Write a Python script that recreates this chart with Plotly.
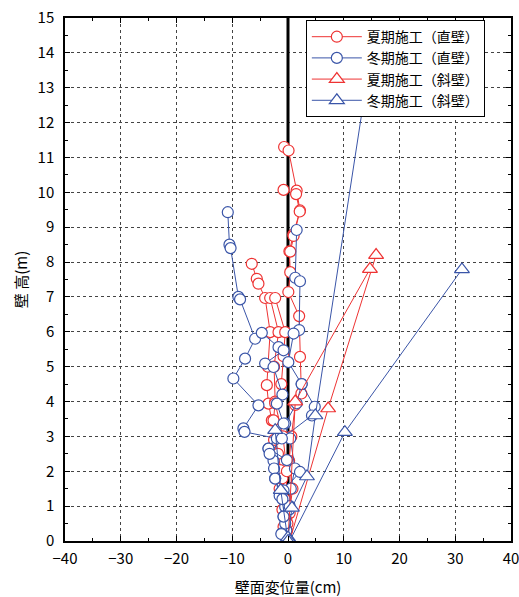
import plotly.graph_objects as go

# ---- data (x: wall displacement cm, y: wall height m); None separates profiles ----
summer_straight_x = [-0.7, 0.1, 1.55, 2.15, 0.95, 0.25, 0.4, 0.06, 2.0, 2.15, 2.4, 1.3, 0.6, 0.2, 0.8, 0.3, -0.2, 0.0, None,
                     -0.8, 1.45, 2.1, 1.0, 0.4, None,
                     -6.5, -5.6, -5.3, -4.1, -3.2, -3.6, -3.8, -3.5, -2.9, -2.5, -1.4, -1.5, -1.0, -0.8, 0.0, None,
                     -3.2, -1.7, -2.5, -2.3, -2.6, -1.8, -1.0, -0.6, -0.3, 0.0, None,
                     -2.3, -0.5, -0.8, -1.2, -2.3, -0.9, -0.2, -0.4, -0.1, 0.0]
summer_straight_y = [11.3, 11.2, 10.05, 9.48, 8.79, 8.31, 7.71, 7.14, 6.45, 5.28, 4.23, 3.9, 3.0, 2.3, 1.5, 0.8, 0.3, 0.0, None,
                     10.07, 9.95, 9.45, 8.75, 8.3, None,
                     7.95, 7.52, 7.38, 6.97, 5.99, 5.0, 4.47, 3.94, 3.46, 2.9, 2.03, 1.5, 0.9, 0.41, 0.0, None,
                     6.97, 5.99, 5.0, 4.0, 3.46, 2.5, 1.8, 1.2, 0.6, 0.0, None,
                     6.97, 5.99, 5.3, 4.5, 3.95, 3.0, 2.0, 1.0, 0.5, 0.0]

winter_straight_x = [-10.8, -10.5, -10.3, -8.9, -8.6, -5.9, -7.7, -9.8, -5.3, -8.0, -7.8, -2.0, -3.5, -2.6, -2.3, -1.5, -0.5, -0.8, -1.1, 0.0, None,
                     1.55, 1.3, 2.15, 2.0, 1.0, 0.06, 2.45, 1.55, -0.5, 0.4, 1.25, 0.5, 0.2, -0.3, 0.0, None,
                     -4.7, -1.7, -0.8, -4.1, -2.6, -1.0, -2.0, -0.8, -3.5, -0.2, 2.15, -0.8, 0.3, -0.5, 0.0, None,
                     2.45, 4.8, 4.3, -1.1, -3.3, -2.5, -2.3, -1.0, -0.8, -1.2, 0.0]
winter_straight_y = [9.43, 8.5, 8.4, 7.0, 6.93, 5.8, 5.23, 4.66, 3.89, 3.23, 3.13, 2.94, 2.65, 2.3, 1.8, 1.3, 0.98, 0.7, 0.22, 0.0, None,
                     8.92, 7.55, 7.45, 6.05, 5.95, 5.13, 4.5, 3.95, 3.37, 2.94, 2.08, 1.5, 0.9, 0.3, 0.0, None,
                     5.97, 5.56, 5.47, 5.09, 4.99, 4.2, 3.94, 3.37, 2.65, 2.32, 1.98, 1.45, 1.0, 0.5, 0.0, None,
                     4.5, 3.85, 3.6, 2.94, 2.5, 2.08, 1.79, 1.2, 0.7, 0.2, 0.0]

summer_slope_x = [0.0, 1.3, 14.7, None, 0.3, 7.2, 15.8]
summer_slope_y = [0.0, 4.0, 7.8, None, 0.0, 3.8, 8.2]

winter_slope_x = [0.0, 0.7, 3.4, 4.9, 13.6, None, 0.3, 10.2, 31.2, None, 0.0, -1.3, -2.3]
winter_slope_y = [0.1, 0.95, 1.85, 3.6, 12.65, None, 0.0, 3.12, 7.79, None, 0.0, 1.46, 3.18]

legend_names = ["夏期施工（直壁）", "冬期施工（直壁）", "夏期施工（斜壁）", "冬期施工（斜壁）"]
zero_line_x = [0, 0]
zero_line_y = [0, 15]

RED = "#ee3333"
BLUE = "#3a55a8"
FONT = "Noto Sans CJK JP"

fig = go.Figure()
fig.add_trace(go.Scatter(x=zero_line_x, y=zero_line_y, mode="lines",
                         line=dict(color="black", width=3), showlegend=False, hoverinfo="skip"))

def add(xs, ys, name, color, symbol, size):
    fig.add_trace(go.Scatter(
        x=xs, y=ys, name=name, mode="lines+markers", connectgaps=False,
        line=dict(color=color, width=1),
        marker=dict(symbol=symbol, size=size, color="white",
                    line=dict(color=color, width=1.2))))

add(summer_straight_x, summer_straight_y, legend_names[0], RED, "circle", 11)
add(winter_straight_x, winter_straight_y, legend_names[1], BLUE, "circle", 11)
add(summer_slope_x, summer_slope_y, legend_names[2], RED, "triangle-up", 13)
add(winter_slope_x, winter_slope_y, legend_names[3], BLUE, "triangle-up", 13)

axis_common = dict(
    showline=True, linecolor="black", linewidth=1.5, mirror="ticks",
    ticks="inside", ticklen=5, tickcolor="black",
    showgrid=True, gridcolor="#444444", griddash="dot", gridwidth=1,
    zeroline=False, automargin=False, ticklabeloverflow="allow",
    tickfont=dict(family=FONT, size=15, color="black"),
)

fig.update_layout(
    width=519, height=597,
    margin=dict(l=65, r=8, t=18, b=56),
    paper_bgcolor="white", plot_bgcolor="white",
    font=dict(family=FONT, color="black"),
    xaxis=dict(range=[-40, 40], tickmode="linear", tick0=-40, dtick=10,
               minor=dict(ticks="inside", ticklen=3, dtick=5, tickcolor="black", showgrid=False),
               title=dict(text="壁面変位量(cm)", font=dict(family=FONT, size=15), standoff=18),
               ticklabelstandoff=3,
               **axis_common),
    yaxis=dict(range=[0, 15], tickmode="linear", tick0=0, dtick=1,
               minor=dict(ticks="inside", ticklen=3, dtick=0.5, tickcolor="black", showgrid=False),
               title=dict(text="壁 高(m)", font=dict(family=FONT, size=15), standoff=6),
               ticklabelstandoff=6,
               **axis_common),
    legend=dict(x=0.54, y=0.996, xanchor="left", yanchor="top",
                bgcolor="white", bordercolor="black", borderwidth=1,
                font=dict(family=FONT, size=14), tracegroupgap=0, itemwidth=50),
    showlegend=True,
)

# remove the default page margin so the 519x597 figure fills the window exactly
fig.write_html("out.html",
               config={"displayModeBar": False},
               post_script="document.body.style.margin='0';document.body.style.overflow='hidden';")
